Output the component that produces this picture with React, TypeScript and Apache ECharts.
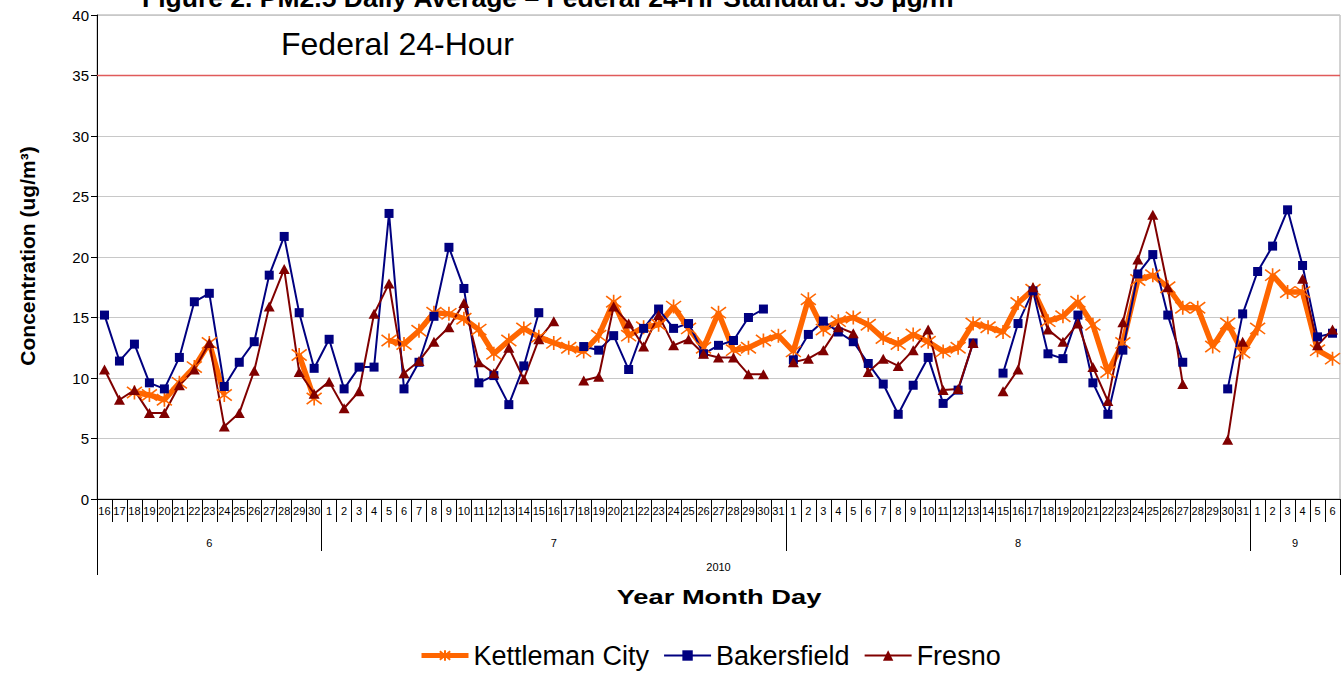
import React, { useEffect, useRef } from 'react';
import * as echarts from 'echarts';

const FONT = '"Liberation Sans", Arial, sans-serif';

// Categories: June 16 – Sept 6, 2010
const days = [
  '16', '17', '18', '19', '20', '21', '22', '23', '24', '25', '26', '27', '28', '29', '30',
  '1', '2', '3', '4', '5', '6', '7', '8', '9', '10', '11', '12', '13', '14', '15', '16',
  '17', '18', '19', '20', '21', '22', '23', '24', '25', '26', '27', '28', '29', '30', '31',
  '1', '2', '3', '4', '5', '6', '7', '8', '9', '10', '11', '12', '13', '14', '15', '16',
  '17', '18', '19', '20', '21', '22', '23', '24', '25', '26', '27', '28', '29', '30', '31',
  '1', '2', '3', '4', '5', '6',
];
const monthStarts = [0, 15, 46, 77];
const monthLabels = ['6', '7', '8', '9'];
const monthLabelIdx = [7, 30, 61, 79];
const yearLabel = '2010';
const yearLabelIdx = 41;

const kettleman = [
  null, null, 8.8, 8.6, 8.2, 9.6, 10.9, 12.9, 8.6, null, null, null, null, 11.9, 8.3,
  null, null, null, null, 13.1, 12.8, 13.9, 15.4, 15.3, 14.9, 14.0, 12.0, 13.1, 14.1, 13.4, 12.9,
  12.5, 12.2, 13.5, 16.3, 13.5, 14.2, 14.4, 15.9, 14.1, 12.5, 15.4, 12.3, 12.5, 13.1, 13.5,
  12.2, 16.5, 14.0, 14.7, 15.0, 14.4, 13.3, 12.8, 13.6, 13.0, 12.2, 12.5, 14.5, 14.2, 13.8, 16.2,
  17.3, 14.7, 15.1, 16.3, 14.4, 10.5, 12.9, 18.1, 18.5, 17.5, 15.8, 15.8, 12.6, 14.5, 12.1,
  14.1, 18.5, 17.1, 17.1, 12.3, 11.6,
];
const bakersfield = [
  15.2, 11.4, 12.8, 9.6, 9.1, 11.7, 16.3, 17.0, 9.3, 11.3, 13.0, 18.5, 21.7, 15.4, 10.8,
  13.2, 9.1, 10.9, 10.9, 23.6, 9.1, 11.3, 15.1, 20.8, 17.4, 9.6, 10.2, 7.8, 11.0, 15.4, null,
  null, 12.6, 12.3, 13.5, 10.7, 14.1, 15.7, 14.1, 14.5, 12.0, 12.7, 13.1, 15.0, 15.7, null,
  11.5, 13.6, 14.7, 13.8, 13.0, 11.2, 9.5, 7.0, 9.4, 11.7, 7.9, 9.0, 12.9, null, 10.4, 14.5,
  17.2, 12.0, 11.6, 15.2, 9.6, 7.0, 12.3, 18.6, 20.2, 15.2, 11.3, null, null, 9.1, 15.3,
  18.8, 20.9, 23.9, 19.3, 13.4, 13.7,
];
const fresno = [
  10.7, 8.2, 9.0, 7.1, 7.1, 9.4, 10.7, 12.9, 6.0, 7.1, 10.6, 15.9, 19.0, 10.5, 8.7,
  9.7, 7.5, 8.9, 15.3, 17.8, 10.4, 11.4, 13.0, 14.2, 16.2, 11.3, 10.4, 12.5, 9.9, 13.2, 14.7,
  null, 9.8, 10.1, 15.9, 14.5, 12.6, 15.2, 12.7, 13.2, 12.0, 11.7, 11.7, 10.3, 10.3, null,
  11.3, 11.6, 12.3, 14.2, 13.7, 10.5, 11.6, 11.0, 12.3, 14.0, 9.0, 9.1, 12.9, null, 8.9, 10.7,
  17.5, 14.0, 13.0, 14.5, 10.9, 8.1, 14.6, 19.8, 23.5, 17.5, 9.5, null, null, 4.9, 13.0,
  null, null, null, 18.2, 12.7, 14.0,
];
const standard = 35;
const yTicks = { min: 0, max: 40, interval: 5 };

const titleText = 'Figure 2. PM2.5 Daily Average – Federal 24-Hr Standard: 35 µg/m³';
const standardLabel = 'Federal 24-Hour';
const yTitle = 'Concentration (ug/m³)';
const xTitle = 'Year Month Day';

export default function App() {
  const ref = useRef<HTMLDivElement>(null);
  useEffect(() => {
    if (!ref.current) return;
    const chart = echarts.init(ref.current, null, { renderer: 'svg' });
    const black = { color: '#000', width: 1 };
    const option: any = {
      animation: false,
      backgroundColor: '#ffffff',
      textStyle: { fontFamily: FONT },
      grid: { left: 97, right: 3, top: 15, bottom: 174, show: true, borderColor: '#A6A6A6', borderWidth: 1 },
      xAxis: [
        {
          type: 'category', data: days, position: 'bottom', boundaryGap: true,
          axisLine: { show: true, lineStyle: black },
          axisTick: { show: true, interval: 0, length: 23, lineStyle: black },
          axisLabel: { interval: 0, fontSize: 11, margin: 6, color: '#000', fontFamily: FONT, hideOverlap: false },
          splitLine: { show: false },
        },
        {
          type: 'category', data: days, position: 'bottom', boundaryGap: true,
          axisLine: { show: false },
          axisTick: { show: true, interval: (i: number) => monthStarts.includes(i), length: 52, lineStyle: black },
          axisLabel: {
            interval: (i: number) => monthLabelIdx.includes(i), fontSize: 11, margin: 38, color: '#000', fontFamily: FONT,
            formatter: (_v: string, i: number) => {
              const k = monthLabelIdx.indexOf(i);
              if (k < 0) return '';
              return k === 3 ? '{s|' + monthLabels[k] + '}' : monthLabels[k];
            },
            rich: { s: { padding: [0, 0, 0, 15], fontSize: 11, color: '#000', fontFamily: FONT } },
          },
          splitLine: { show: false },
        },
        {
          type: 'category', data: days, position: 'bottom', boundaryGap: true,
          axisLine: { show: false },
          axisTick: { show: true, interval: (i: number) => i === 0, length: 76, lineStyle: black },
          axisLabel: {
            interval: (i: number) => i === yearLabelIdx, fontSize: 11, margin: 62, color: '#000', fontFamily: FONT,
            formatter: (_v: string, i: number) => (i === yearLabelIdx ? yearLabel : ''),
          },
          splitLine: { show: false },
        },
      ],
      yAxis: {
        type: 'value', min: yTicks.min, max: yTicks.max, interval: yTicks.interval,
        axisLine: { show: true, lineStyle: black },
        axisTick: { show: true, length: 6, lineStyle: black },
        axisLabel: { fontSize: 15, color: '#000', margin: 8, fontFamily: FONT },
        splitLine: { show: true, lineStyle: { color: '#C8C8C8', width: 1 } },
      },
      legend: {
        left: 414, top: 637, itemWidth: 47, itemHeight: 13, itemGap: 14,
        textStyle: { fontSize: 27, color: '#000', fontFamily: FONT },
        data: [
          { name: 'Kettleman City', lineStyle: { width: 5 } },
          { name: 'Bakersfield', lineStyle: { width: 2 } },
          { name: 'Fresno', lineStyle: { width: 2 } },
        ],
      },
      series: [
        {
          name: 'Kettleman City', type: 'line', data: kettleman, connectNulls: false,
          symbol: 'path://M0,1L10,9M10,1L0,9M5,0L5,10', symbolSize: [15, 14],
          itemStyle: { color: '#FF6600', borderColor: '#FF6600', borderWidth: 1.6 },
          lineStyle: { color: '#FF6600', width: 5.5 },
          markLine: {
            silent: true, symbol: ['none', 'none'], label: { show: false },
            lineStyle: { color: '#E05A5A', width: 1.3, type: 'solid' },
            data: [{ yAxis: standard }],
          },
        },
        {
          name: 'Bakersfield', type: 'line', data: bakersfield, connectNulls: false,
          symbol: 'rect', symbolSize: 9,
          itemStyle: { color: '#000080' },
          lineStyle: { color: '#000080', width: 2 },
        },
        {
          name: 'Fresno', type: 'line', data: fresno, connectNulls: false,
          symbol: 'triangle', symbolSize: [11, 10],
          itemStyle: { color: '#800000' },
          lineStyle: { color: '#800000', width: 2 },
        },
      ],
      graphic: [
        {
          type: 'text', left: 142, top: -16,
          style: { text: titleText, fontSize: 26.5, fontWeight: 'bold', fontFamily: FONT, fill: '#000' },
        },
        {
          type: 'text', left: 281, top: 28,
          style: { text: standardLabel, fontSize: 32, fontFamily: FONT, fill: '#000' },
        },
        {
          type: 'text', x: 27, y: 256, rotation: Math.PI / 2,
          style: { text: yTitle, fontSize: 21, fontWeight: 'bold', fontFamily: FONT, fill: '#000', align: 'center', verticalAlign: 'middle' },
        },
        {
          type: 'text', x: 719, y: 597, scaleX: 1.3,
          style: { text: xTitle, fontSize: 21, fontWeight: 'bold', fontFamily: FONT, fill: '#000', align: 'center', verticalAlign: 'middle' },
        },
      ],
    };
    chart.setOption(option);
    return () => chart.dispose();
  }, []);
  return <div ref={ref} style={{ width: 1343, height: 673, position: 'absolute', left: 0, top: 0 }} />;
}
